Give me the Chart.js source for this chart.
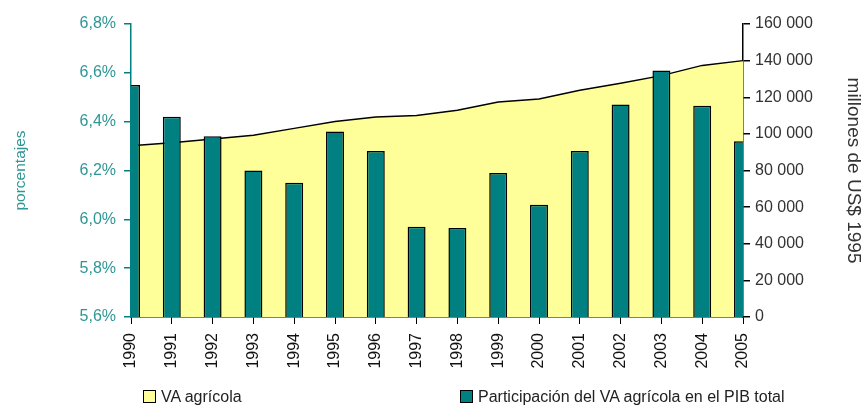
<!DOCTYPE html>
<html lang="es">
<head>
    <meta charset="UTF-8">
    <title>VA agrícola</title>
    <script src="https://cdn.jsdelivr.net/npm/chart.js@4"></script>
    <style>
        body { margin: 0; background: #fff; overflow: hidden; }
        #wrap { position: relative; width: 863px; height: 406px; }
        .leyenda {
            position: absolute; top: 387px; height: 20px;
            font-family: 'Liberation Sans', Arial, sans-serif;
            font-size: 16px; color: #222; white-space: nowrap; line-height: 20px;
        }
        .leyenda span.caja {
            display: inline-block; width: 11px; height: 11px; border: 1px solid #000;
            vertical-align: middle; margin-right: 5px; position: relative; top: -1px;
        }
    </style>
</head>
<body>

<div id="wrap">
    <canvas id="grafico" width="863" height="406"></canvas>
    <div class="leyenda" style="left:143px"><span class="caja" style="background:#FFFF99"></span>VA agrícola</div>
    <div class="leyenda" style="left:460px"><span class="caja" style="background:#008080"></span>Participación del VA agrícola en el PIB total</div>
</div>

<script>
// datos
const anios = ['1990','1991','1992','1993','1994','1995','1996','1997','1998','1999','2000','2001','2002','2003','2004','2005'];
const participacion = [6.55, 6.42, 6.34, 6.20, 6.15, 6.36, 6.28, 5.97, 5.965, 6.19, 6.06, 6.28, 6.47, 6.61, 6.465, 6.32];
const vaAgricola = [93500, 95200, 97200, 99200, 103000, 106700, 109200, 110000, 112900, 117400, 119000, 123800, 127600, 131800, 137400, 140000];

const TEAL = '#008080';
const TEAL_TXT = '#2E9696';

Chart.defaults.font.family = "'Liberation Sans', Arial, sans-serif";
Chart.defaults.font.size = 16;

function miles(v) {
    return String(v).replace(/\B(?=(\d{3})+(?!\d))/g, ' ');
}

const ctx = document.getElementById('grafico').getContext('2d');
new Chart(ctx, {
    type: 'bar',
    data: {
        labels: anios,
        datasets: [
            {
                type: 'bar',
                label: 'Participación del VA agrícola en el PIB total',
                data: participacion,
                yAxisID: 'y',
                backgroundColor: TEAL,
                borderColor: '#000',
                borderWidth: 1.5,
                barPercentage: 0.44,
                categoryPercentage: 1,
                clip: 0,
                order: 1
            },
            {
                type: 'line',
                label: 'VA agrícola',
                data: vaAgricola,
                yAxisID: 'y1',
                borderColor: '#000',
                borderWidth: 1.5,
                backgroundColor: '#FFFF99',
                fill: 'origin',
                tension: 0,
                pointRadius: 0,
                order: 2
            }
        ]
    },
    options: {
        responsive: false,
        animation: false,
        layout: { padding: { top: 24, left: 0, right: 0, bottom: 0 } },
        plugins: {
            legend: { display: false },
            tooltip: { enabled: false }
        },
        scales: {
            x: {
                offset: false,
                grid: { offset: false, drawOnChartArea: false, tickLength: 7, color: '#000' },
                border: { color: '#000', width: 1.5 },
                ticks: { color: '#111', minRotation: 90, maxRotation: 90, padding: 9, autoSkip: false },
                afterFit: s => { s.height = 89; }
            },
            y: {
                position: 'left',
                min: 5.6,
                max: 6.8,
                grid: { drawOnChartArea: false, tickLength: 7, color: TEAL, lineWidth: 1.5 },
                border: { color: TEAL, width: 1.5 },
                ticks: {
                    stepSize: 0.2,
                    color: TEAL_TXT,
                    padding: 8,
                    callback: v => (Math.round(v * 10) / 10).toFixed(1).replace('.', ',') + '%'
                },
                title: {
                    display: true,
                    text: 'porcentajes',
                    color: TEAL_TXT,
                    font: { size: 15.5 },
                    padding: { top: 11, bottom: 0 }
                },
                afterFit: s => { s.width = 131; }
            },
            y1: {
                position: 'right',
                min: 0,
                max: 160000,
                grid: { drawOnChartArea: false, tickLength: 7, color: '#000', lineWidth: 1.5 },
                border: { color: '#000', width: 1.5 },
                ticks: { stepSize: 20000, color: '#333', padding: 5, callback: v => miles(v) },
                title: {
                    display: true,
                    text: 'millones de US$ 1995',
                    color: '#333',
                    font: { size: 19, lineHeight: 1 },
                    padding: { top: 0, bottom: 0 }
                },
                afterFit: s => { s.width = 120; }
            }
        }
    }
});
</script>

</body>
</html>
